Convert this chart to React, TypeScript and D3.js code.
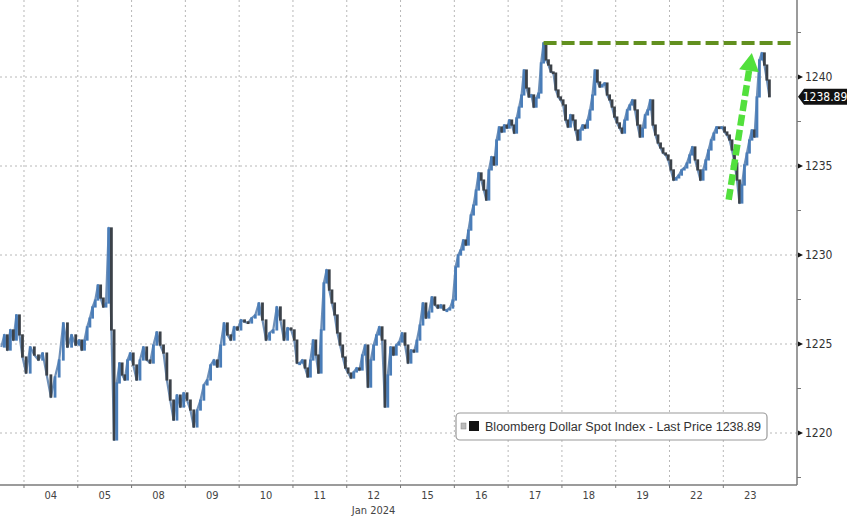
import React from "react";
import * as d3 from "d3";

// trading days shown on the axis (03 is only partly visible on the left)
const dayLabels = ["03", "04", "05", "08", "09", "10", "11", "12", "15", "16", "17", "18", "19", "22", "23"];

// intraday closes, one list per trading day
const dayPrices: number[][] = [
  [1224.83, 1225.51, 1224.66, 1225.79, 1225.22, 1226.63, 1225.51, 1224.27],
  [1223.37, 1224.83, 1224.38, 1224.1, 1224.49, 1223.26, 1222.02, 1223.15, 1224.1, 1226.18, 1224.83, 1225.51, 1224.94],
  [1225.22, 1224.66, 1225.22, 1225.96, 1226.46, 1227.08, 1227.47, 1228.31, 1227.58, 1227.08, 1227.3, 1231.52, 1225.79, 1219.61, 1222.81, 1223.93, 1223.26, 1222.98, 1224.1, 1224.49],
  [1223.82, 1222.98, 1224.1, 1224.83, 1224.1, 1223.93, 1224.94, 1225.67, 1224.94, 1224.49, 1222.98, 1221.85, 1220.73, 1222.13, 1221.46, 1222.25],
  [1221.85, 1221.29, 1220.34, 1221.29, 1221.85, 1222.7, 1222.98, 1223.82, 1224.1, 1223.71, 1224.94, 1226.18, 1225.51, 1225.22, 1225.96, 1225.79],
  [1226.35, 1226.24, 1226.18, 1226.46, 1226.63, 1227.3, 1226.35, 1225.22, 1225.62, 1225.79, 1227.08, 1226.35, 1225.22, 1225.9, 1225.79],
  [1225.22, 1223.93, 1223.93, 1224.1, 1223.65, 1223.15, 1224.1, 1225.22, 1224.38, 1223.37, 1225.79, 1228.43, 1229.16, 1228.03, 1227.3, 1226.63, 1225.62, 1224.94, 1224.27, 1223.65],
  [1223.37, 1223.09, 1223.43, 1223.65, 1223.54, 1224.38, 1224.94, 1222.58, 1224.1, 1224.94, 1225.51, 1225.96, 1225.22, 1221.46, 1223.26, 1224.83, 1224.38, 1224.94, 1225.11],
  [1225.62, 1224.94, 1223.93, 1224.66, 1224.55, 1225.22, 1226.07, 1227.3, 1226.46, 1226.8, 1227.64, 1227.19, 1227.02, 1227.19, 1226.91, 1226.91, 1227.02, 1227.47],
  [1229.33, 1230.0, 1230.28, 1230.84, 1230.56, 1231.4, 1232.25, 1232.81, 1233.65, 1234.61, 1234.21, 1233.65, 1233.09, 1234.78, 1235.51, 1235.06, 1236.46, 1237.19, 1236.91, 1237.3, 1237.13],
  [1237.58, 1237.3, 1236.85, 1237.7, 1238.31, 1238.99, 1240.39, 1239.38, 1238.88, 1238.99, 1238.31, 1238.82, 1239.1, 1240.79, 1241.91, 1240.96, 1240.67, 1240.28, 1240.22, 1239.27, 1238.88, 1238.71],
  [1238.43, 1237.58, 1237.19, 1237.87, 1237.58, 1237.02, 1236.46, 1237.02, 1237.3, 1237.13, 1237.58, 1238.15, 1238.99, 1240.39, 1239.72, 1239.44, 1239.55, 1239.66, 1238.99, 1238.71, 1238.31, 1237.75],
  [1237.42, 1237.13, 1236.85, 1237.58, 1238.15, 1238.43, 1238.71, 1238.15, 1237.3, 1236.63, 1237.13, 1237.87, 1238.15, 1238.71, 1237.3, 1236.74, 1236.29, 1236.01, 1235.73, 1235.62, 1235.34],
  [1234.78, 1234.21, 1234.33, 1234.49, 1234.78, 1234.89, 1235.17, 1235.62, 1236.07, 1235.34, 1234.78, 1234.21, 1234.78, 1235.34, 1235.9, 1236.46, 1236.85, 1237.19, 1237.13, 1237.19],
  [1236.91, 1236.74, 1236.46, 1235.9, 1235.17, 1234.21, 1232.92, 1233.93, 1235.06, 1235.73, 1236.46, 1237.02, 1236.63, 1238.88, 1240.96, 1241.35, 1240.67, 1239.83, 1238.89],
];

// first day starts mid-session, last day is still running
const firstDayStart = 0.55;
const lastDayEnd = 0.88;

const yTicks = [1220, 1225, 1230, 1235, 1240];
const yMinorTicks = [1217.5, 1222.5, 1227.5, 1232.5, 1237.5, 1242.5];
const lastPrice = 1238.89;
const seriesName = "Bloomberg Dollar Spot Index - Last Price";

// the annotated bounce on the 23rd (day index + fraction, price)
const arrowFrom = { t: 14.1, p: 1233.1 };
const arrowTo = { t: 14.53, p: 1241.35 };

const W = 848;
const H = 517;
const plotRight = 797;
const plotBottom = 485;

const points: { t: number; p: number }[] = [];
dayPrices.forEach((vals, d) => {
  const s = d === 0 ? firstDayStart : 0;
  const e = d === dayPrices.length - 1 ? lastDayEnd : 1;
  vals.forEach((p, k) => {
    points.push({ t: d + s + ((e - s) * (k + 0.5)) / vals.length, p });
  });
});

const App: React.FC = () => {
  const x = d3.scaleLinear().domain([0.554, 15.37]).range([0, plotRight]);
  const y = d3.scaleLinear().domain([1220, 1240]).range([433, 77]);

  const line = d3
    .line<{ t: number; p: number }>()
    .x((d) => x(d.t))
    .y((d) => y(d.p));

  const peak = points.reduce((a, b) => (b.p > a.p ? b : a), points[0]);

  const ax = x(arrowFrom.t);
  const ay = y(arrowFrom.p);
  const bx = x(arrowTo.t);
  const by = y(arrowTo.p);
  const ang = Math.atan2(by - ay, bx - ax);
  const headLen = 18;
  const headW = 10;
  const hx = bx - headLen * Math.cos(ang);
  const hy = by - headLen * Math.sin(ang);
  const px = -Math.sin(ang);
  const py = Math.cos(ang);

  const font = "'Liberation Sans Narrow', 'DejaVu Sans Condensed', 'Liberation Sans', sans-serif";
  const ly = y(lastPrice);

  return (
    <svg
      width={W}
      height={H}
      style={{ position: "absolute", left: 0, top: 0, background: "#fff" }}
    >
      {/* grid */}
      {yTicks.map((v) => (
        <line
          key={"hg" + v}
          x1={0}
          x2={plotRight}
          y1={y(v)}
          y2={y(v)}
          stroke="#b8b8b8"
          strokeDasharray="2,3"
        />
      ))}
      {dayLabels.slice(1).map((_, i) => (
        <line
          key={"vg" + i}
          x1={x(i + 1)}
          x2={x(i + 1)}
          y1={0}
          y2={plotBottom}
          stroke="#b8b8b8"
          strokeDasharray="2,3"
        />
      ))}

      {/* price series */}
      <path
        d={line(points) || ""}
        fill="none"
        stroke="#6f90b8"
        strokeWidth={2.2}
        strokeLinejoin="round"
      />
      {points.slice(1).map((d, i) => {
        const o = points[i].p;
        const top = y(Math.max(o, d.p));
        const h = Math.max(1.5, Math.abs(y(o) - y(d.p)));
        return (
          <rect
            key={"c" + i}
            x={x(d.t) - 1.4}
            y={top - 0.6}
            width={2.8}
            height={h + 1.2}
            fill={d.p >= o ? "#4a7db8" : "#3c4249"}
          />
        );
      })}

      {/* resistance line at the high */}
      <line
        x1={x(peak.t)}
        x2={plotRight - 5}
        y1={y(peak.p)}
        y2={y(peak.p)}
        stroke="#62901f"
        strokeWidth={4}
        strokeDasharray="13,5"
      />

      {/* bounce arrow */}
      <line
        x1={ax}
        y1={ay}
        x2={hx}
        y2={hy}
        stroke="#52e03c"
        strokeWidth={6.5}
        strokeDasharray="11,4"
      />
      <polygon
        points={`${bx},${by} ${hx + px * headW},${hy + py * headW} ${hx - px * headW},${hy - py * headW}`}
        fill="#52e03c"
      />

      {/* axes */}
      <line x1={plotRight} x2={plotRight} y1={0} y2={plotBottom} stroke="#7a7a7a" strokeWidth={1.5} />
      <line x1={0} x2={plotRight} y1={plotBottom} y2={plotBottom} stroke="#7a7a7a" strokeWidth={1.5} />
      {yMinorTicks.map((v) => (
        <line key={"mt" + v} x1={plotRight} x2={plotRight + 4} y1={y(v)} y2={y(v)} stroke="#777" />
      ))}
      {yTicks.map((v) => (
        <g key={"yt" + v}>
          <polygon
            points={`${plotRight + 1},${y(v) - 2.5} ${plotRight + 6},${y(v)} ${plotRight + 1},${y(v) + 2.5}`}
            fill="#111"
          />
          <text x={plotRight + 8} y={y(v) + 4} fontFamily={font} fontSize={12} fill="#333">
            {v}
          </text>
        </g>
      ))}
      {dayLabels.slice(1).map((_, i) => (
        <line
          key={"xt" + i}
          x1={x(i + 1)}
          x2={x(i + 1)}
          y1={plotBottom}
          y2={plotBottom + 3}
          stroke="#777"
        />
      ))}
      {dayLabels.map((lab, i) =>
        i === 0 ? null : (
          <text
            key={"xl" + lab}
            x={x(i + 0.5)}
            y={499}
            textAnchor="middle"
            fontFamily={font}
            fontSize={11}
            fill="#444"
          >
            {lab}
          </text>
        )
      )}
      <text x={x(7.5)} y={514} textAnchor="middle" fontFamily={font} fontSize={11} fill="#444">
        Jan 2024
      </text>

      {/* last price tag */}
      <polygon
        points={`${plotRight + 1},${ly} ${plotRight + 7},${ly - 8} ${W - 1},${ly - 8} ${W - 1},${ly + 8} ${plotRight + 7},${ly + 8}`}
        fill="#111"
      />
      <text x={plotRight + 28} y={ly + 4} textAnchor="middle" fontFamily={font} fontSize={12} fill="#fff">
        {lastPrice.toFixed(2)}
      </text>

      {/* legend */}
      <rect x={456} y={413} width={311} height={27} rx={4} fill="#fff" stroke="#9a9a9a" strokeWidth={1.2} />
      <rect x={461} y={423} width={5} height={6} fill="#bbb" stroke="#888" strokeWidth={0.5} />
      <rect x={469} y={421} width={10} height={10} fill="#111" />
      <text
        x={485}
        y={431}
        fontFamily="'Liberation Sans', sans-serif"
        fontSize={12}
        fill="#333"
        textLength={276}
        lengthAdjust="spacingAndGlyphs"
      >
        {seriesName} {lastPrice.toFixed(2)}
      </text>
    </svg>
  );
};

export default App;
